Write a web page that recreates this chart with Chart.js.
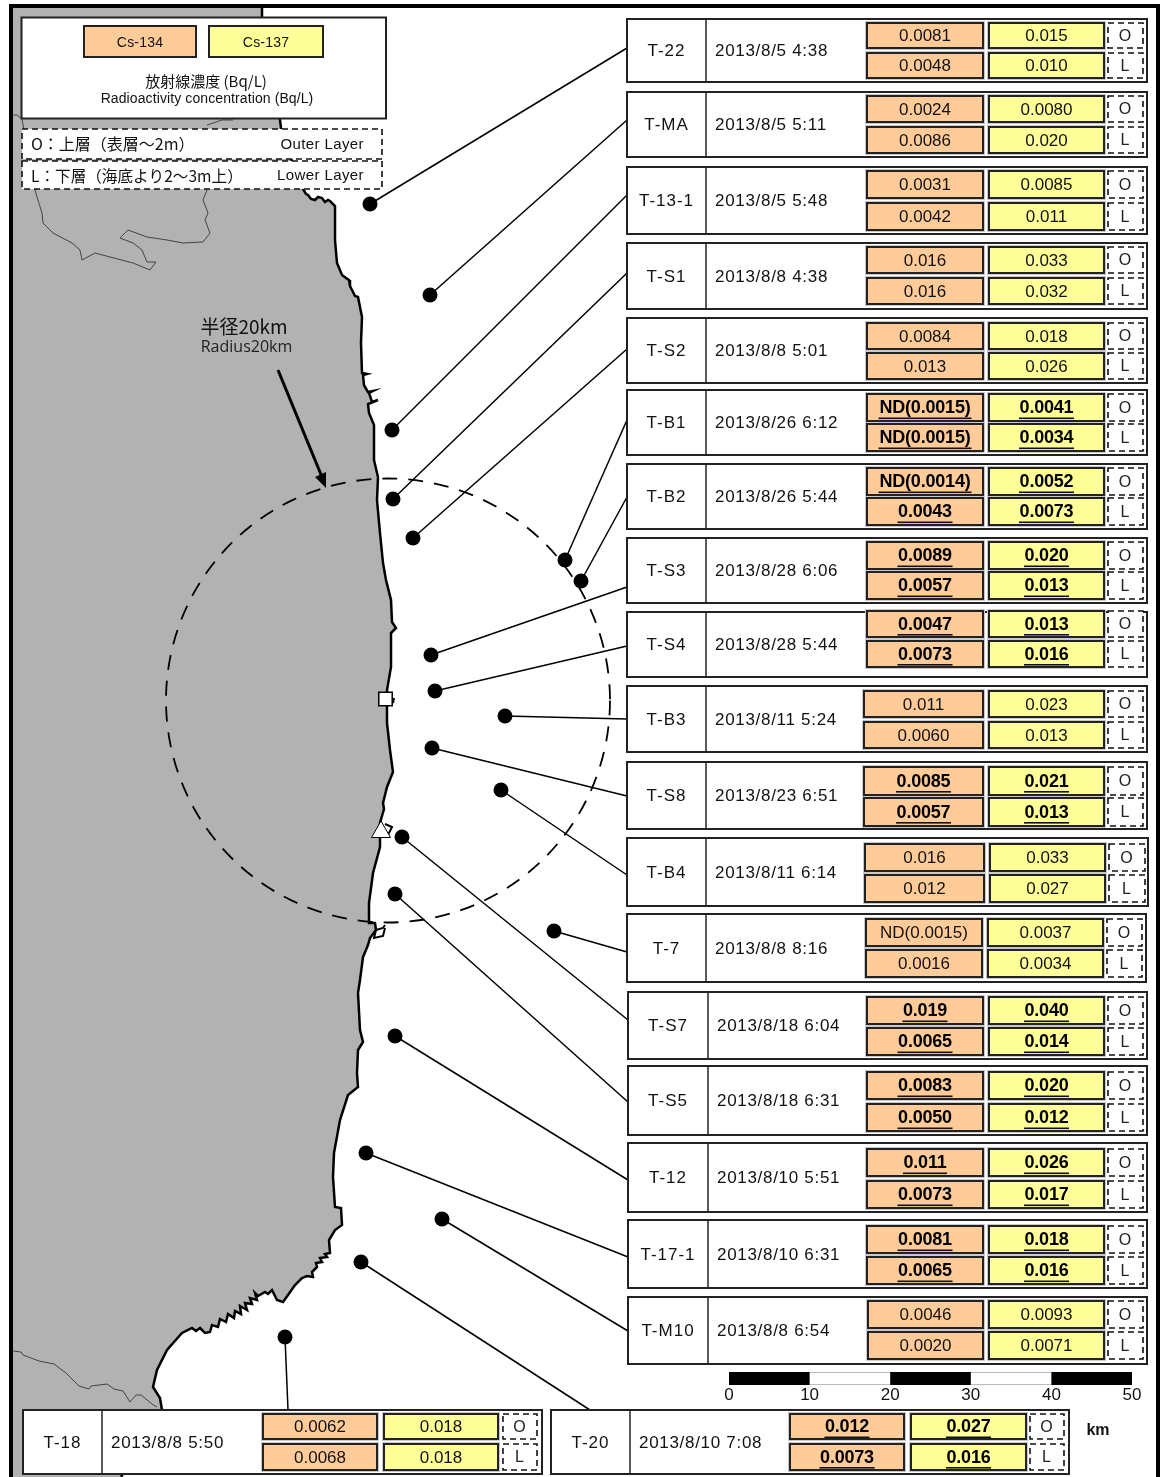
<!DOCTYPE html>
<html>
<head>
<meta charset="utf-8">
<title>Radioactivity concentration</title>
<script src="https://cdn.jsdelivr.net/npm/chart.js@4"></script>
<style>
  html, body { margin: 0; padding: 0; background: #fff; }
  canvas { display: block; }
</style>
</head>
<body>
<canvas id="map" width="1161" height="1477"></canvas>
<script>
// station tables
const stationNames = ["T-22","T-MA","T-13-1","T-S1","T-S2","T-B1","T-B2","T-S3","T-S4","T-B3","T-S8","T-B4","T-7","T-S7","T-S5","T-12","T-17-1","T-M10","T-18","T-20"];
const sampleDates = ["2013/8/5 4:38","2013/8/5 5:11","2013/8/5 5:48","2013/8/8 4:38","2013/8/8 5:01","2013/8/26 6:12","2013/8/26 5:44","2013/8/28 6:06","2013/8/28 5:44","2013/8/11 5:24","2013/8/23 6:51","2013/8/11 6:14","2013/8/8 8:16","2013/8/18 6:04","2013/8/18 6:31","2013/8/10 5:51","2013/8/10 6:31","2013/8/8 6:54","2013/8/8 5:50","2013/8/10 7:08"];
const cs134Outer = ["0.0081","0.0024","0.0031","0.016","0.0084","ND(0.0015)","ND(0.0014)","0.0089","0.0047","0.011","0.0085","0.016","ND(0.0015)","0.019","0.0083","0.011","0.0081","0.0046","0.0062","0.012"];
const cs134Lower = ["0.0048","0.0086","0.0042","0.016","0.013","ND(0.0015)","0.0043","0.0057","0.0073","0.0060","0.0057","0.012","0.0016","0.0065","0.0050","0.0073","0.0065","0.0020","0.0068","0.0073"];
const cs137Outer = ["0.015","0.0080","0.0085","0.033","0.018","0.0041","0.0052","0.020","0.013","0.023","0.021","0.033","0.0037","0.040","0.020","0.026","0.018","0.0093","0.018","0.027"];
const cs137Lower = ["0.010","0.020","0.011","0.032","0.026","0.0034","0.0073","0.013","0.016","0.013","0.013","0.027","0.0034","0.014","0.012","0.017","0.016","0.0071","0.018","0.016"];
const boldStations = ["T-B1","T-B2","T-S3","T-S4","T-S8","T-S7","T-S5","T-12","T-17-1","T-20"];

// sampling points, same order as stationNames
const stationX = [370,430,392,393,413,565,581,431,435,505,432,501,554,402,395,395,366,442,285,361];
const stationY = [204,295,430,499,538,560,581,655,691,716,748,790,931,837,894,1036,1153,1219,1337,1262];
// where each leader meets its table
const leaderEndX = [627,627,627,627,627,627,627,627,627,627,627,627,627,628,628,628,628,628,288,590];
const leaderEndY = [48,120,195,273,349,420,497,587,646,719,796,875,952,1020,1102,1180,1257,1331,1410,1410];

// plant markers
const plantSquare = [{x:385.5,y:699}];
const plantTriangle = [{x:381,y:832}];

// coastline, north to south
const coast = [[262,8],[262,17],[270,70],[280,120],[281,128],[295,170],[303,189],[306,194],[308,195],[311,199],[315,200],[318,197],[322,198],[325,202],[328,200],[330,201],[335,206],[335,240],[337,263],[342,275],[346,278],[349,280],[350,286],[352,290],[355,296],[358,297],[362,317],[361,343],[362,373],[367,374],[363,375],[364,385],[368,392],[373,391],[369,393],[372,402],[378,400],[368,404],[369,413],[374,425],[374,460],[378,477],[377,500],[380,533],[383,563],[386,580],[391,600],[392,622],[396,628],[391,633],[391,667],[387,690],[387,723],[390,750],[393,772],[387,787],[383,803],[384,809],[380,823],[380,847],[373,873],[369,903],[369,923],[375,923],[376,930],[370,938],[368,945],[363,957],[360,980],[358,993],[360,1030],[363,1042],[358,1050],[357,1073],[358,1087],[348,1095],[340,1120],[334,1153],[333,1177],[335,1207],[341,1208],[342,1225],[335,1230],[329,1240],[330,1253],[325,1254],[327,1257],[320,1258],[322,1262],[316,1263],[317,1267],[312,1272],[313,1277],[307,1276],[302,1278],[295,1285],[288,1295],[283,1302],[277,1300],[272,1290],[268,1294],[265,1292],[258,1296],[255,1293],[257,1300],[250,1298],[252,1304],[245,1303],[247,1310],[240,1306],[241,1314],[235,1311],[234,1318],[228,1314],[226,1322],[220,1319],[218,1327],[212,1325],[210,1332],[205,1333],[200,1328],[196,1331],[192,1328],[182,1333],[167,1350],[157,1370],[153,1387],[160,1398],[162,1410],[121,1477]];
const coastIslets = [[[385,824],[392,827],[388,835],[385,830]],[[394,698],[393,703]],[[376,930],[383,928],[385,925]],[[376,930],[374,938],[383,936],[385,928]]];

// prefecture borders
const borderNorth = [[13,115],[17,115],[22,119],[35,190],[37,197],[42,213],[43,223],[53,233],[72,243],[80,250],[82,260],[95,253],[110,257],[133,263],[150,270],[156,262],[147,262],[142,250],[133,243],[120,238],[128,230],[147,237],[167,240],[183,243],[203,242],[210,233],[205,220],[208,213],[203,200],[207,190]];
const borderNorthTop = [[207,125],[222,120],[233,120]];
const borderSouth = [[13,1351],[21,1352],[23,1355],[39,1361],[54,1364],[66,1373],[79,1386],[89,1389],[91,1386],[107,1384],[114,1389],[123,1391],[130,1402],[136,1395],[141,1395],[152,1404],[157,1407]];

// 20km circle
const circleCenter = [388,700.5];
const circleRadius = 222;

// scale bar, km
const barBlack = [[0,10],[20,30],[40,50]];
const barWhite = [[10,20],[30,40]];
const barTicks = [0,10,20,30,40,50];

// table geometry: x0,y0,x1,y1,divider, orange x0,x1, yellow x0,x1, layer x0,x1, outer y0,y1, lower y0,y1
const boxLayout = [
  [627,19,1147,82,706,867,983,989,1104,1108,1143,23,48,53,78],
  [627,92,1147,157,706,867,983,989,1104,1108,1143,96,122,127,153],
  [627,167,1147,234,706,867,983,989,1104,1108,1143,171,198,203,230],
  [627,243,1147,309,706,867,983,989,1104,1108,1143,247,273,278,304],
  [627,318,1147,383,706,867,983,989,1104,1108,1143,323,349,353,379],
  [627,390,1147,455,706,867,983,989,1104,1108,1143,394,421,424,451],
  [627,464,1147,529,706,867,983,989,1104,1108,1143,468,495,498,525],
  [627,538,1147,603,706,867,983,989,1104,1108,1143,542,569,572,599],
  [627,612,1147,677,706,867,983,989,1104,1108,1143,611,637,641,667],
  [627,686,1147,752,706,864,983,989,1104,1108,1143,691,717,722,748],
  [627,762,1147,829,706,864,983,989,1104,1108,1143,767,795,798,826],
  [627,838,1148,906,706,865,984,990,1105,1109,1145,844,871,875,902],
  [627,914,1146,982,706,866,982,988,1103,1107,1142,919,946,950,977],
  [628,992,1147,1059,708,867,983,989,1104,1108,1143,997,1024,1028,1055],
  [628,1066,1147,1135,708,867,983,989,1104,1108,1143,1072,1099,1104,1131],
  [628,1143,1147,1212,708,867,983,989,1104,1108,1143,1149,1176,1181,1208],
  [628,1220,1147,1288,708,867,983,989,1104,1108,1143,1226,1253,1257,1284],
  [628,1297,1147,1364,708,868,983,989,1104,1108,1143,1301,1328,1332,1359],
  [23,1410,542,1474,102,263,377,384,498,503,537,1414,1439,1444,1470],
  [551,1410,1069,1474,630,790,904,911,1026,1030,1064,1414,1439,1444,1470]
];

const ORANGE = "#FFCC99", YELLOW = "#FFFF99", LAND = "#B2B2B2", INK = "#111";
const latin = '"Liberation Sans", sans-serif';
const cjk = '"Noto Sans CJK JP", sans-serif';

function toPts(list) { return list.map(p => ({x:p[0], y:p[1]})); }
function lineSet(list, color, width, extra) {
  return Object.assign({data: toPts(list), showLine: true, borderColor: color, borderWidth: width, pointRadius: 0, tension: 0, fill: false}, extra || {});
}

const datasets = [];
// land is the coast closed round the frame corners
datasets.push(lineSet([[13,8]].concat(coast, [[13,1477]]), "rgba(0,0,0,0)", 0, {fill: "shape", backgroundColor: LAND}));
[borderNorth, borderNorthTop, borderSouth].forEach(b => datasets.push(lineSet(b, "#444", 1)));
datasets.push(lineSet(coast, "#000", 2.5));
coastIslets.forEach(s => datasets.push(lineSet(s, "#000", 2)));
const circleAfter = datasets.length - 1;
stationNames.forEach((n, i) => {
  datasets.push(lineSet([[stationX[i], stationY[i]], [leaderEndX[i], leaderEndY[i]]], "#000", 1.5, {label: n}));
});
datasets.push({label: "stations", data: stationX.map((x, i) => ({x: x, y: stationY[i]})), pointRadius: 7.5, pointBackgroundColor: "#000", pointBorderWidth: 0, showLine: false});
datasets.push({label: "square", data: plantSquare, pointStyle: "rect", pointRadius: 9.5, pointBackgroundColor: "#fff", pointBorderColor: "#000", pointBorderWidth: 1.5, showLine: false});
datasets.push({label: "triangle", data: plantTriangle, pointStyle: "triangle", pointRadius: 11, pointBackgroundColor: "#fff", pointBorderColor: "#000", pointBorderWidth: 1, showLine: false});
barWhite.forEach(s => {
  datasets.push(lineSet([[s[0],1378.5],[s[1],1378.5]], "#bbb", 13, {xAxisID: "km", borderCapStyle: "butt"}));
  datasets.push(lineSet([[s[0],1378.5],[s[1],1378.5]], "#fff", 11, {xAxisID: "km", borderCapStyle: "butt"}));
});
barBlack.forEach(s => datasets.push(lineSet([[s[0],1378.5],[s[1],1378.5]], "#000", 13, {xAxisID: "km", borderCapStyle: "butt"})));
// chart.js paints low order on top, so later entries get the lower numbers
datasets.forEach((d, i) => { d.order = datasets.length - i; });

function rect(ctx, x0, y0, x1, y1, fill, stroke, w) {
  if (fill) { ctx.fillStyle = fill; ctx.fillRect(x0, y0, x1 - x0, y1 - y0); }
  if (stroke) { ctx.strokeStyle = stroke; ctx.lineWidth = w; ctx.strokeRect(x0, y0, x1 - x0, y1 - y0); }
}
function text(ctx, s, x, y, font, align, spacing, color) {
  ctx.font = font;
  ctx.textAlign = align || "center";
  ctx.textBaseline = "middle";
  ctx.letterSpacing = (spacing || 0) + "px";
  ctx.fillStyle = color || INK;
  ctx.fillText(s, x, y);
  ctx.letterSpacing = "0px";
}
function cell(ctx, x0, y0, x1, y1, fill, value, bold) {
  rect(ctx, x0 - 1.5, y0 - 1.5, x1 + 1.5, y1 + 1.5, null, "#c8c8c8", 1);
  rect(ctx, x0, y0, x1, y1, fill, "#222", 2);
  const cx = (x0 + x1) / 2, cy = (y0 + y1) / 2 + 1;
  if (bold) {
    text(ctx, value, cx, cy, "bold 18px " + latin, "center", -0.2, "#000");
    const w = ctx.measureText(value).width;
    ctx.fillStyle = "#111";
    ctx.fillRect(cx - w / 2, cy + 9, w, 1.6);
  } else {
    text(ctx, value, cx, cy, "17px " + latin);
  }
}
function layerBox(ctx, x0, y0, x1, y1, s) {
  ctx.save();
  ctx.setLineDash([6, 4]);
  rect(ctx, x0, y0, x1, y1, "#fff", "#111", 1.6);
  ctx.restore();
  text(ctx, s, (x0 + x1) / 2 - 0.5, (y0 + y1) / 2 + 1, "16px " + latin, "center", 0, "#222");
}

const mapPlugin = {
  id: "mapPlugin",
  afterDatasetDraw(chart, args) {
    if (args.index !== circleAfter) return;
    const ctx = chart.ctx, sx = chart.scales.x, sy = chart.scales.y;
    const cx = sx.getPixelForValue(circleCenter[0]), cy = sy.getPixelForValue(circleCenter[1]);
    const r = sx.getPixelForValue(circleCenter[0] + circleRadius) - cx;
    ctx.save();
    ctx.setLineDash([15, 11]);
    ctx.strokeStyle = "#000";
    ctx.lineWidth = 1.8;
    ctx.beginPath();
    ctx.arc(cx, cy, r, 0, Math.PI * 2);
    ctx.stroke();
    ctx.restore();
  },
  afterDatasetsDraw(chart) {
    const ctx = chart.ctx;
    ctx.save();
    // arrow to the circle
    ctx.strokeStyle = "#000";
    ctx.lineWidth = 3;
    ctx.beginPath(); ctx.moveTo(278, 370); ctx.lineTo(322, 477); ctx.stroke();
    ctx.fillStyle = "#000";
    ctx.beginPath(); ctx.moveTo(326, 488); ctx.lineTo(315, 477); ctx.lineTo(326, 472); ctx.closePath(); ctx.fill();
    text(ctx, "半径20km", 244, 327, "19px " + cjk);
    text(ctx, "Radius20km", 246.5, 347, "16px " + '"Open Sans", sans-serif', "center", 0, "#222");

    // legend
    rect(ctx, 21.5, 17.5, 386, 118.5, "#fff", "#222", 2);
    rect(ctx, 84, 26, 196, 57, ORANGE, "#222", 2);
    rect(ctx, 209, 26, 323, 57, YELLOW, "#222", 2);
    text(ctx, "Cs-134", 140, 43, "14px " + latin, "center", 0.2);
    text(ctx, "Cs-137", 266, 43, "14px " + latin, "center", 0.2);
    text(ctx, "放射線濃度 (Bq/L)", 206, 81, "15px " + cjk);
    text(ctx, "Radioactivity concentration (Bq/L)", 207, 99, "14px " + latin, "center", 0.1);

    // layer key
    ctx.save();
    ctx.setLineDash([6, 4]);
    rect(ctx, 22, 129, 382, 159, "#fff", "#111", 1.6);
    rect(ctx, 22, 161, 382, 189, "#fff", "#111", 1.6);
    ctx.restore();
    text(ctx, "O：上層（表層～2m）", 31, 144, "16px " + cjk, "left");
    text(ctx, "L：下層（海底より2～3m上）", 31, 176, "15.6px " + cjk, "left");
    text(ctx, "Outer Layer", 364, 145, "15px " + latin, "right", 0.4);
    text(ctx, "Lower Layer", 364, 176, "15px " + latin, "right", 0.4);

    // station tables
    stationNames.forEach((name, i) => {
      const b = boxLayout[i], bold = boldStations.includes(name);
      rect(ctx, b[0], b[1], b[2], b[3], "#fff", "#222", 2);
      ctx.strokeStyle = "#222"; ctx.lineWidth = 1.5;
      ctx.beginPath(); ctx.moveTo(b[4], b[1]); ctx.lineTo(b[4], b[3]); ctx.stroke();
      const midY = (b[1] + b[3]) / 2 + 1;
      text(ctx, name, (b[0] + b[4]) / 2, midY, "17px " + latin, "center", 1);
      text(ctx, sampleDates[i], b[4] + 9, midY, "17px " + latin, "left", 0.7);
      cell(ctx, b[5], b[11], b[6], b[12], ORANGE, cs134Outer[i], bold);
      cell(ctx, b[5], b[13], b[6], b[14], ORANGE, cs134Lower[i], bold);
      cell(ctx, b[7], b[11], b[8], b[12], YELLOW, cs137Outer[i], bold);
      cell(ctx, b[7], b[13], b[8], b[14], YELLOW, cs137Lower[i], bold);
      layerBox(ctx, b[9], b[11], b[10], b[12], "O");
      layerBox(ctx, b[9], b[13], b[10], b[14], "L");
    });

    // scale bar labels
    const km = chart.scales.km;
    barTicks.forEach(t => text(ctx, String(t), km.getPixelForValue(t), 1395, "17px " + latin));
    text(ctx, "km", 1098, 1431, "bold 16px " + latin);

    // frame
    rect(ctx, 11, 6, 1158, 1480, null, "#000", 4);
    ctx.restore();
  }
};

new Chart(document.getElementById("map"), {
  type: "scatter",
  data: {datasets: datasets},
  plugins: [mapPlugin],
  options: {
    responsive: false,
    animation: false,
    devicePixelRatio: 1,
    layout: {padding: 0, autoPadding: false},
    plugins: {legend: {display: false}, tooltip: {enabled: false}},
    scales: {
      x: {type: "linear", min: 0, max: 1161, display: false},
      // 0 km sits at 729px, 50 km at 1132px
      km: {type: "linear", axis: "x", min: -729 / 8.06, max: (1161 - 729) / 8.06, display: false},
      y: {type: "linear", min: 0, max: 1477, reverse: true, display: false}
    }
  }
});
</script>
</body>
</html>
